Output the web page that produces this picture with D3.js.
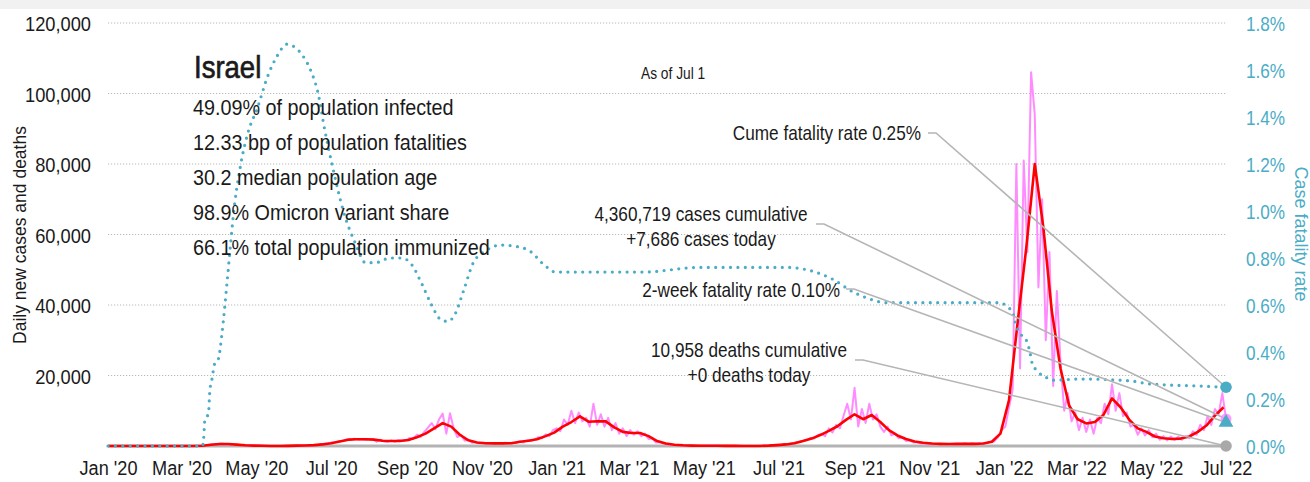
<!DOCTYPE html>
<html>
<head>
<meta charset="utf-8">
<script src="https://cdn.jsdelivr.net/npm/d3@7"></script>
<style>
  html, body { margin: 0; padding: 0; background: #fff; }
  svg { display: block; font-family: "Liberation Sans", Arial, sans-serif; }
</style>
</head>
<body>
<svg id="chart" width="1310" height="482"></svg>
<script>
// ---- Data -------------------------------------------------------------
// 7-day average of new cases, one value per week starting 2020-01-01
const avgStart = "2020-01-01";
const avgCases = [
  0, 0, 0, 0, 0, 0, 0, 0, 0, 5,
  20, 80, 350, 550, 550, 400, 200, 100, 50, 20,
  20, 40, 100, 150, 250, 450, 800, 1300, 1800, 1900,
  1900, 1800, 1500, 1400, 1400, 1700, 2500, 3500, 5000, 6500,
  5500, 3200, 1600, 1000, 800, 750, 750, 800, 1200, 1500,
  1900, 2800, 3800, 5500, 6800, 8400, 6900, 7000, 7000, 5300,
  4000, 3700, 3700, 2800, 1400, 700, 350, 200, 120, 80,
  60, 50, 40, 25, 15, 15, 20, 100, 250, 450,
  800, 1400, 2100, 3100, 4300, 5600, 7400, 9000, 7600, 8800,
  6800, 4500, 3000, 2000, 1300, 900, 700, 600, 550, 600,
  600, 600, 700, 1200, 3500, 13000, 35000, 56000, 80000, 62000,
  38000, 22000, 11500, 7600, 6400, 6800, 8800, 13500, 11000, 7500,
  5000, 4000, 2700, 2200, 2000, 2100, 2700, 4000, 5800, 8600,
  11000
];

// Daily new cases, one value every third day starting 2020-03-01
const dailyStart = "2020-03-01";
const dailyCases = [
  2, 3, 5, 15, 40, 80, 150, 250, 450, 600, 600,
  700, 450, 550, 300, 350, 250, 200, 150, 120, 80,
  60, 40, 30, 20, 25, 15, 20, 15, 40, 80,
  100, 140, 170, 150, 200, 300, 250, 500, 700, 800,
  1000, 1100, 1400, 1500, 1900, 1700, 2100, 1800, 1900, 1700,
  1900, 2000, 1200, 1800, 1300, 1100, 1600, 1200, 1700, 1500,
  1600, 2300, 2000, 3200, 2600, 4000, 5200, 6500, 4800, 7500,
  9200, 3500, 9300, 5000, 2500, 3200, 1500, 1800, 900, 1100,
  700, 900, 650, 850, 600, 850, 700, 900, 750, 950,
  800, 1300, 1000, 1700, 1400, 1900, 2500, 2200, 3300, 2800,
  4500, 5000, 4200, 7500, 6000, 10000, 6500, 9500, 7000, 8000,
  5500, 12000, 6000, 9000, 5500, 8000, 4500, 6500, 3500, 5000,
  2800, 4500, 3200, 4200, 2800, 3500, 2000, 2200, 1000, 1100,
  700, 600, 300, 350, 200, 180, 130, 110, 90, 80,
  70, 60, 50, 50, 40, 40, 30, 30, 20, 20,
  15, 15, 10, 10, 15, 20, 15, 40, 120, 150,
  250, 350, 300, 600, 500, 800, 1000, 1200, 1500, 1700,
  2300, 2100, 3000, 3500, 2800, 5000, 3800, 6000, 5000, 8500,
  12000, 7500, 16500, 5500, 10500, 6500, 12000, 7500, 9000, 5500,
  4000, 5500, 3000, 3500, 2200, 2400, 1400, 1600, 1000, 1100,
  700, 800, 600, 700, 450, 650, 500, 600, 450, 600,
  650, 550, 800, 600, 750, 550, 800, 700, 900, 1200,
  1300, 2500, 4500, 5500, 11000, 16000, 80000, 22000, 81000, 55000,
  106000, 94000, 45000, 70000, 30000, 55000, 17000, 44000, 24000, 10000,
  15000, 7000, 9500, 4500, 8000, 4000, 7500, 3500, 8000, 6500,
  12000, 9000, 17500, 10000, 15000, 8500, 9500, 5500, 6000, 3200,
  5000, 3000, 4500, 2500, 3500, 1800, 2800, 1600, 2700, 1700,
  2600, 1800, 2800, 2200, 4200, 3200, 6000, 4500, 8500, 6000,
  10500, 9000, 15000, 7686
];

// Cumulative case fatality rate (%)
const cfrDates = [
  "2020-01-01", "2020-03-18", "2020-03-19", "2020-03-20", "2020-03-23", "2020-03-24",
  "2020-03-26", "2020-03-28", "2020-03-31", "2020-04-03", "2020-04-07", "2020-04-10",
  "2020-04-12", "2020-04-18", "2020-04-24", "2020-05-02", "2020-05-10", "2020-05-18",
  "2020-05-26", "2020-06-03", "2020-06-08", "2020-06-15", "2020-06-20", "2020-06-26",
  "2020-07-03", "2020-07-11", "2020-07-21", "2020-07-29", "2020-08-06", "2020-08-18",
  "2020-08-28", "2020-09-05", "2020-09-13", "2020-09-21", "2020-09-28", "2020-10-04",
  "2020-10-10", "2020-10-17", "2020-10-25", "2020-11-04", "2020-11-16", "2020-11-28",
  "2020-12-10", "2020-12-22", "2020-12-31", "2021-01-12", "2021-02-05", "2021-03-12",
  "2021-04-28", "2021-07-08", "2021-07-24", "2021-08-14", "2021-08-31", "2021-09-11",
  "2021-09-27", "2021-12-29", "2022-01-04", "2022-01-08", "2022-01-11", "2022-01-14",
  "2022-01-20", "2022-01-22", "2022-01-24", "2022-01-28", "2022-02-01", "2022-02-05",
  "2022-02-10", "2022-03-04", "2022-04-14", "2022-04-30", "2022-06-10", "2022-07-01"
];
const cfrValues = [
  0, 0, 0.03, 0.11, 0.14, 0.23,
  0.29, 0.35, 0.37, 0.48, 0.69, 0.86,
  0.97, 1.19, 1.33, 1.44, 1.57, 1.66,
  1.71, 1.69, 1.66, 1.59, 1.51, 1.34,
  1.17, 1.00, 0.86, 0.78, 0.78, 0.80,
  0.80, 0.77, 0.69, 0.60, 0.54, 0.53,
  0.56, 0.66, 0.78, 0.83, 0.855, 0.85,
  0.83, 0.77, 0.74, 0.74, 0.74, 0.74,
  0.76, 0.76, 0.75, 0.71, 0.655, 0.63,
  0.61, 0.61, 0.59, 0.57, 0.51, 0.48,
  0.44, 0.40, 0.35, 0.32, 0.30, 0.29,
  0.28, 0.285, 0.277, 0.264, 0.255, 0.25
];

// Axis ticks
const caseTicks = [20000, 40000, 60000, 80000, 100000, 120000];
const cfrTicks = [0, 0.2, 0.4, 0.6, 0.8, 1.0, 1.2, 1.4, 1.6, 1.8];

// Headline figures
const country = "Israel";
const asOf = "As of Jul 1";
const statLines = [
  "49.09% of population infected",
  "12.33 bp of population fatalities",
  "30.2 median population age",
  "98.9% Omicron variant share",
  "66.1% total population immunized"
];
const lastDate = "2022-07-01";
const casesCumulative = 4360719;
const casesToday = 7686;
const deathsCumulative = 10958;
const deathsToday = 0;
const cumeFatalityRate = 0.25;
const twoWeekFatalityRate = 0.10;

// ---- Chart ------------------------------------------------------------
const W = 1310, H = 482;
const svg = d3.select("#chart");
const parse = d3.utcParse("%Y-%m-%d");
const BLUE = "#4bacc6", PINK = "#ff8cff", RED = "#ff0000", GREY = "#b3b3b3", INK = "#1a1a1a";

const x = d3.scaleUtc()
  .domain([parse("2020-01-01"), parse(lastDate)])
  .range([108, 1226]);
const y = d3.scaleLinear().domain([0, 120000]).range([446, 23]);
const yR = d3.scaleLinear().domain([0, 1.8]).range([446, 23]);

// Text set in a horizontally condensed face: scale about the anchor point.
function label(parent, px, py, lines, { size = 20, k = 0.86, anchor = "start", fill = INK, heavy = 0, lead = 25 } = {}) {
  const g = parent.append("g").attr("transform", `translate(${px},${py}) scale(${k},1)`);
  const t = g.append("text").attr("text-anchor", anchor).attr("font-size", size).attr("fill", fill);
  if (heavy) t.attr("stroke", fill).attr("stroke-width", heavy);
  [].concat(lines).forEach((l, i) => t.append("tspan").attr("x", 0).attr("y", i * lead).text(l));
  return g;
}

// top band
svg.append("rect").attr("x", 0).attr("y", 0).attr("width", W).attr("height", 9).attr("fill", "#f1f1f1");

// gridlines
svg.append("g").selectAll("line").data(caseTicks).join("line")
  .attr("x1", x.range()[0]).attr("x2", x.range()[1])
  .attr("y1", d => y(d)).attr("y2", d => y(d))
  .attr("stroke", "#b8b8b8").attr("stroke-width", 1).attr("stroke-dasharray", "1.2,1.8");

// left axis
const leftAxis = svg.append("g").attr("transform", "translate(91,0)")
  .call(d3.axisLeft(y).tickValues(caseTicks).tickSize(0).tickPadding(0).tickFormat(d3.format(",")));
leftAxis.select(".domain").remove();
leftAxis.selectAll("text").attr("font-family", null).attr("font-size", 21).attr("fill", INK)
  .attr("dy", "0.36em").attr("transform", "scale(0.87,1)");

// right axis
const rightAxis = svg.append("g").attr("transform", "translate(1246,0)")
  .call(d3.axisRight(yR).tickValues(cfrTicks).tickSize(0).tickPadding(0).tickFormat(d => d.toFixed(1) + "%"));
rightAxis.select(".domain").remove();
rightAxis.selectAll("text").attr("font-family", null).attr("font-size", 19.5).attr("fill", BLUE)
  .attr("dy", "0.36em").attr("transform", "scale(0.88,1)");

// bottom axis
const bottomAxis = svg.append("g").attr("transform", "translate(0,459)")
  .call(d3.axisBottom(x).ticks(d3.utcMonth.every(2)).tickSize(0).tickPadding(0).tickFormat(d3.utcFormat("%b '%y")));
bottomAxis.select(".domain").remove();
bottomAxis.selectAll("text").attr("font-family", null).attr("font-size", 21).attr("fill", INK)
  .attr("dy", "0.75em").attr("transform", "scale(0.865,1)");

// axis titles
svg.append("text").attr("transform", "translate(26,235) rotate(-90)")
  .attr("text-anchor", "middle").attr("font-size", 17.5).attr("fill", INK)
  .text("Daily new cases and deaths");
svg.append("text").attr("transform", "translate(1295,234) rotate(90)")
  .attr("text-anchor", "middle").attr("font-size", 18).attr("fill", BLUE)
  .text("Case fatality rate");

// zero baseline
svg.append("line").attr("x1", x.range()[0]).attr("x2", x.range()[1])
  .attr("y1", y(0)).attr("y2", y(0)).attr("stroke", GREY).attr("stroke-width", 3);

// daily cases
const dailySeries = dailyCases.map((v, i) => ({ date: d3.utcDay.offset(parse(dailyStart), 3 * i), v }));
svg.append("path").datum(dailySeries)
  .attr("fill", "none").attr("stroke", PINK).attr("stroke-width", 2).attr("stroke-linejoin", "round")
  .attr("d", d3.line().x(d => x(d.date)).y(d => y(d.v)));

// 7-day average
const avgSeries = avgCases.map((v, i) => ({ date: d3.utcDay.offset(parse(avgStart), 7 * i), v }));
svg.append("path").datum(avgSeries)
  .attr("fill", "none").attr("stroke", RED).attr("stroke-width", 2.6).attr("stroke-linejoin", "round")
  .attr("d", d3.line().x(d => x(d.date)).y(d => y(d.v)));

// case fatality rate
const cfrSeries = cfrDates.map((d, i) => ({ date: parse(d), v: cfrValues[i] }));
svg.append("path").datum(cfrSeries)
  .attr("fill", "none").attr("stroke", BLUE).attr("stroke-width", 3.2)
  .attr("stroke-linecap", "round").attr("stroke-dasharray", "0,7.4")
  .attr("d", d3.line().curve(d3.curveMonotoneX).x(d => x(d.date)).y(d => yR(d.v)));

// headline text
label(svg, 194, 78, country, { size: 32, k: 0.86, heavy: 0.7 });
statLines.forEach((s, i) => label(svg, 193, 115 + i * 35, s, { size: 22, k: 0.9 }));
label(svg, 641, 79, asOf, { size: 16, k: 0.86 });

// end-of-series markers and callouts
const xEnd = x(parse(lastDate));
const fmt = d3.format(",");
const callouts = [
  { lines: [`Cume fatality rate ${cumeFatalityRate.toFixed(2)}%`], anchor: "end", tx: 921, ty: 140,
    from: [928, 133], yTo: yR(cumeFatalityRate) },
  { lines: [`${fmt(casesCumulative)} cases cumulative`, `+${fmt(casesToday)} cases today`], anchor: "middle", tx: 701, ty: 221,
    from: [816, 224], yTo: y(casesToday) },
  { lines: [`2-week fatality rate ${twoWeekFatalityRate.toFixed(2)}%`], anchor: "end", tx: 840, ty: 297,
    from: [846, 289], yTo: yR(twoWeekFatalityRate) },
  { lines: [`${fmt(deathsCumulative)} deaths cumulative`, `+${fmt(deathsToday)} deaths today`], anchor: "middle", tx: 749, ty: 357,
    from: [855, 360], yTo: y(deathsToday) }
];

svg.append("g").selectAll("path").data(callouts).join("path")
  .attr("fill", "none").attr("stroke", "#b5b5b5").attr("stroke-width", 1.6)
  .attr("d", d => d3.line()([d.from, [d.from[0] + 8, d.from[1]], [xEnd, d.yTo]]));

callouts.forEach(c => label(svg, c.tx, c.ty, c.lines, { size: 20, k: 0.86, anchor: c.anchor, lead: 25 }));

svg.append("circle").attr("cx", xEnd).attr("cy", y(casesToday)).attr("r", 5.5).attr("fill", PINK).attr("opacity", 0.85);
svg.append("path").attr("transform", `translate(${xEnd},${yR(twoWeekFatalityRate)})`)
  .attr("d", d3.symbol(d3.symbolTriangle).size(95)()).attr("fill", BLUE);
svg.append("circle").attr("cx", xEnd).attr("cy", yR(cumeFatalityRate)).attr("r", 5.8).attr("fill", BLUE);
svg.append("circle").attr("cx", xEnd).attr("cy", y(deathsToday)).attr("r", 5.8).attr("fill", "#a9a9a9");
</script>
</body>
</html>
